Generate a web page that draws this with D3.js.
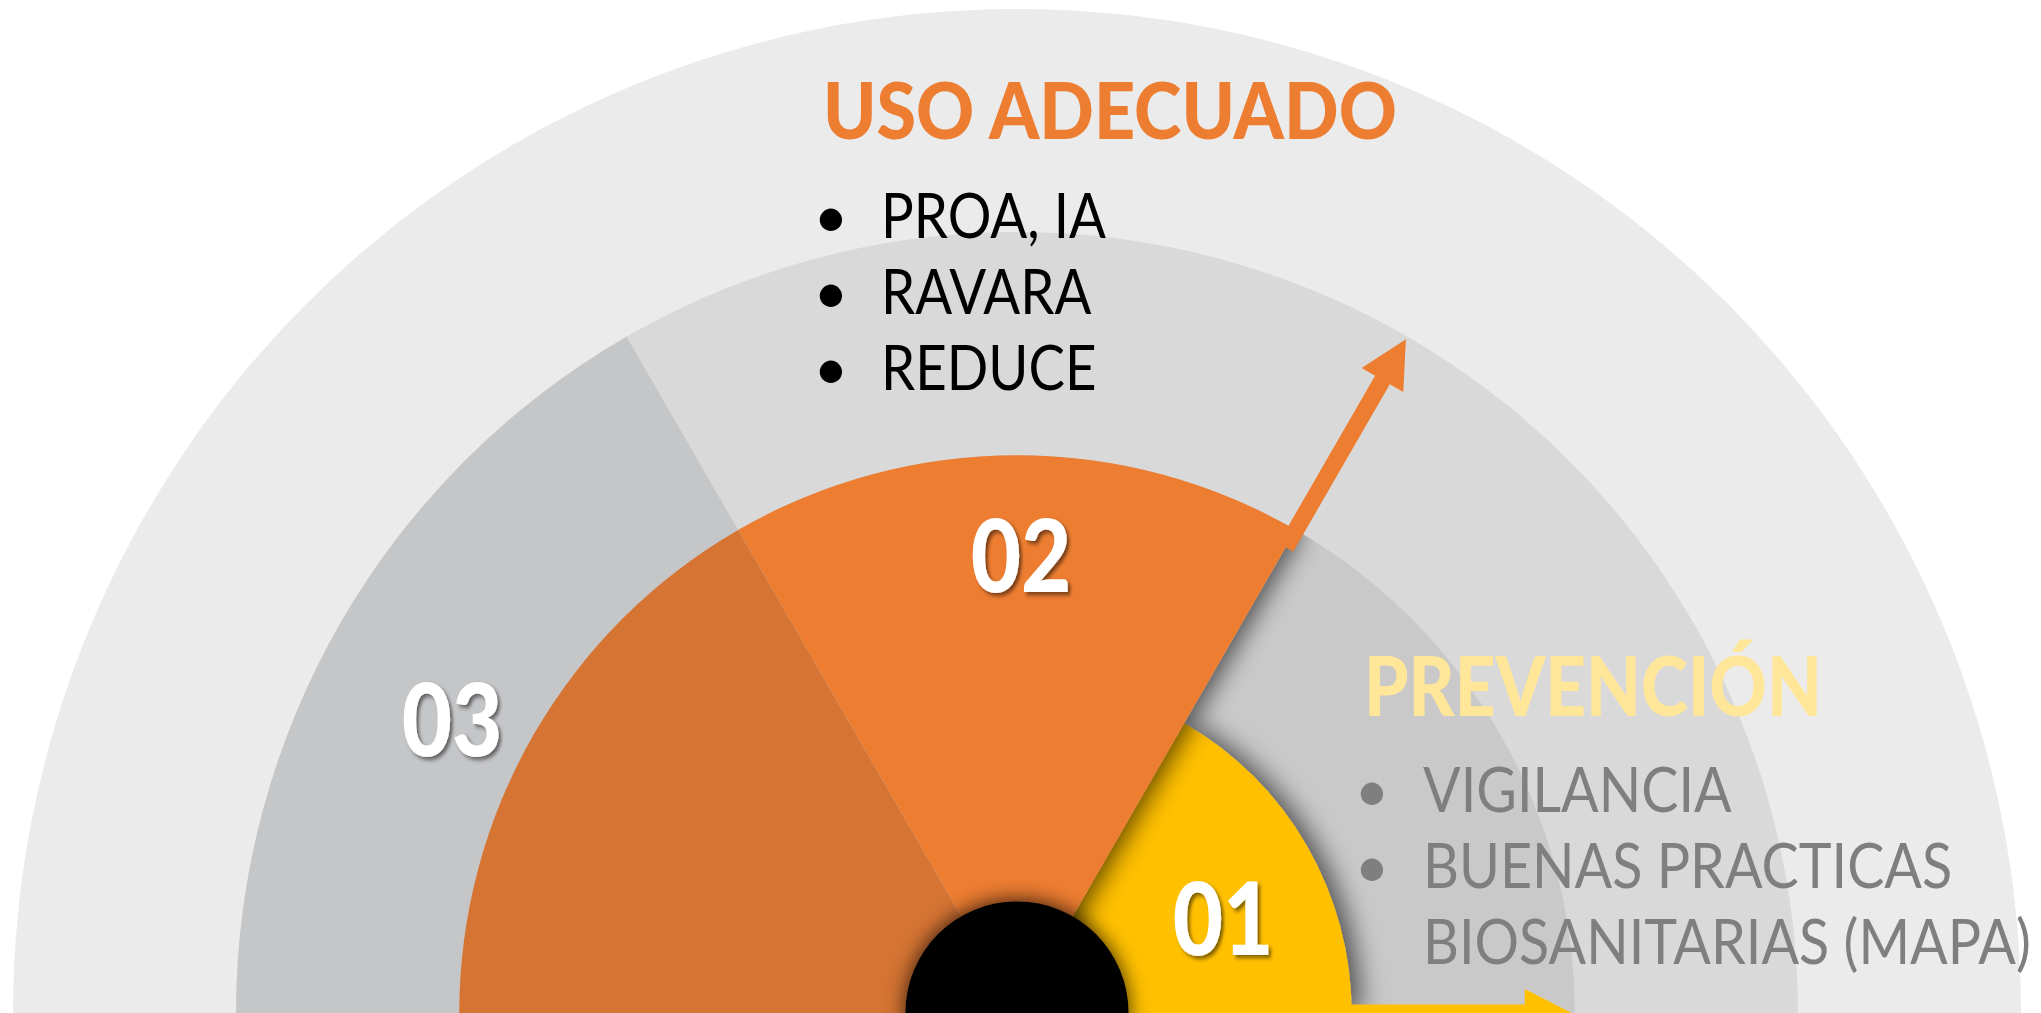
<!DOCTYPE html>
<html>
<head>
<meta charset="utf-8">
<script src="https://cdn.jsdelivr.net/npm/d3@7"></script>
<style>
  html, body { margin: 0; padding: 0; background: #fff; overflow: hidden; }
  svg { display: block; }
</style>
</head>
<body>
<div id="chart"></div>
<script>
// data
const sectorLabels = ["01", "02", "03"];
const sectorShare = [1, 1, 1];      // three equal slices of the half disc
const sectorReach = [3, 5, 7];      // how far each slice reaches (ring units)
const ringLevels = [9, 7, 5];       // background half rings
const hubLevel = 1;
const headings = ["PREVENCIÓN", "USO ADECUADO"];
const usoItems = [["PROA, IA"], ["RAVARA"], ["REDUCE"]];
const prevencionItems = [["VIGILANCIA"], ["BUENAS PRACTICAS", "BIOSANITARIAS (MAPA)"]];

const W = 2041, H = 1013;
const cx = 1017, cy = 1013;
const font = "Lato, 'Open Sans', sans-serif";

const r = d3.scaleLinear().domain([0, 9]).range([0, 1004]);

const svg = d3.select("#chart").append("svg")
  .attr("width", W)
  .attr("height", H);

svg.append("rect").attr("width", W).attr("height", H).attr("fill", "#fff");

const defs = svg.append("defs");

defs.append("filter").attr("id", "yellowShadow")
  .attr("x", "-30%").attr("y", "-30%").attr("width", "160%").attr("height", "160%")
  .append("feDropShadow")
  .attr("dx", 9).attr("dy", 0).attr("stdDeviation", 13)
  .attr("flood-color", "#000").attr("flood-opacity", 0.6);

defs.append("filter").attr("id", "blur12")
  .attr("x", "-30%").attr("y", "-30%").attr("width", "160%").attr("height", "160%")
  .append("feGaussianBlur").attr("stdDeviation", 12);

defs.append("filter").attr("id", "hubShadow")
  .attr("x", "-40%").attr("y", "-40%").attr("width", "180%").attr("height", "180%")
  .append("feDropShadow")
  .attr("dx", 0).attr("dy", -2).attr("stdDeviation", 10)
  .attr("flood-color", "#000").attr("flood-opacity", 0.75);

defs.append("filter").attr("id", "numShadow")
  .attr("x", "-20%").attr("y", "-20%").attr("width", "150%").attr("height", "150%")
  .append("feDropShadow")
  .attr("dx", 3).attr("dy", 3).attr("stdDeviation", 2)
  .attr("flood-color", "#000").attr("flood-opacity", 0.5);

const g = svg.append("g").attr("transform", `translate(${cx},${cy})`);

// background half rings
const ringColors = ["#ebebeb", "#d9d9d9", "#c9c9c9"];
const half = d3.arc().innerRadius(0).startAngle(-Math.PI / 2).endAngle(Math.PI / 2);
g.selectAll(".ring")
  .data(ringLevels)
  .enter()
  .append("path")
  .attr("class", "ring")
  .attr("d", (d) => half.outerRadius(r(d))())
  .attr("fill", (d, i) => ringColors[i]);

// slices: 01 on the right, 02 on top, 03 on the left
const pie = d3.pie().sort(null).startAngle(Math.PI / 2).endAngle(-Math.PI / 2);
const slices = pie(sectorShare).map((p, i) => ({ ...p, label: sectorLabels[i], reach: sectorReach[i] }));
const arc = d3.arc();

// 03 : grey band plus the darker orange under it
const s3 = slices[2];
g.append("path")
  .attr("d", arc({ startAngle: s3.startAngle, endAngle: s3.endAngle, innerRadius: r(slices[1].reach), outerRadius: r(s3.reach) }))
  .attr("fill", "#c5c6c8");
g.append("path")
  .attr("d", arc({ startAngle: s3.startAngle, endAngle: s3.endAngle, innerRadius: 0, outerRadius: r(slices[1].reach) }))
  .attr("fill", "#d57433");

// 01 : yellow with its shadow
const s1 = slices[0];
g.append("path")
  .attr("d", arc({ startAngle: s1.startAngle, endAngle: s1.endAngle, innerRadius: 0, outerRadius: r(s1.reach) }))
  .attr("fill", "#ffc000")
  .attr("filter", "url(#yellowShadow)");

// shadow of the 02 slice, only on the right side of its edge
const s2 = slices[1];
defs.append("clipPath").attr("id", "rightClip")
  .append("path")
  .attr("d", arc({ startAngle: s1.startAngle, endAngle: s1.endAngle, innerRadius: 0, outerRadius: r(s2.reach) }));
g.append("g")
  .attr("clip-path", "url(#rightClip)")
  .append("path")
  .attr("d", arc({ startAngle: s2.startAngle, endAngle: s2.endAngle, innerRadius: 0, outerRadius: r(s2.reach) }))
  .attr("transform", "translate(8,0)")
  .attr("fill", "#000")
  .attr("opacity", 0.6)
  .attr("filter", "url(#blur12)");

g.append("path")
  .attr("d", arc({ startAngle: s2.startAngle, endAngle: s2.endAngle, innerRadius: 0, outerRadius: r(s2.reach) }))
  .attr("fill", "#ed7d31");

// arrows along the leading edge of 01 and 02
function arrowPath(r0, r1) {
  const sw = 8.5, hw = 24, hl = 47;
  return `M${r0},${-sw}L${r1 - hl},${-sw}L${r1 - hl},${-hw}L${r1},0L${r1 - hl},${hw}L${r1 - hl},${sw}L${r0},${sw}Z`;
}
const arrows = [
  { slice: s1, color: "#ffc000" },
  { slice: s2, color: "#ed7d31" },
];
g.selectAll(".arrow")
  .data(arrows)
  .enter()
  .append("path")
  .attr("class", "arrow")
  .attr("d", (d) => arrowPath(r(d.slice.reach) - 20, r(d.slice.reach + 2) - 3))
  .attr("transform", (d) => `rotate(${(d.slice.startAngle * 180) / Math.PI - 90})`)
  .attr("fill", (d) => d.color);

// hub
g.append("circle")
  .attr("r", r(hubLevel))
  .attr("fill", "#000")
  .attr("filter", "url(#hubShadow)");

// slice numbers
const numberPos = { "01": [1223, 955], "02": [1021, 592], "03": [452, 756] };
svg.selectAll(".num")
  .data(slices)
  .enter()
  .append("text")
  .attr("class", "num")
  .attr("transform", (d) => `translate(${numberPos[d.label][0]},${numberPos[d.label][1]}) scale(0.86,1)`)
  .attr("text-anchor", "middle")
  .attr("font-family", font)
  .attr("font-weight", 900)
  .attr("font-size", 101)
  .attr("fill", "#fff")
  .attr("filter", "url(#numShadow)")
  .text((d) => d.label);

// text blocks
function textBlock(x, y, title, titleColor, titleSize, titleWidth, items, itemColor, listTop, itemX, lineH, listWidth) {
  const head = svg.append("text")
    .attr("font-family", font)
    .attr("font-weight", 900)
    .attr("font-size", titleSize)
    .attr("fill", titleColor)
    .text(title);
  const hs = titleWidth / head.node().getComputedTextLength();
  head.attr("transform", `translate(${x},${y}) scale(${hs},1)`);

  const list = svg.append("g");
  let line = 0;
  items.forEach((item) => {
    item.forEach((txt, j) => {
      const ly = listTop + line * lineH;
      if (j === 0) {
        list.append("text")
          .attr("x", x + 8)
          .attr("y", ly)
          .attr("text-anchor", "middle")
          .attr("font-family", font)
          .attr("font-size", 60)
          .attr("fill", itemColor)
          .text("•");
      }
      list.append("text")
        .attr("class", "item")
        .attr("x", itemX)
        .attr("y", ly)
        .attr("font-family", font)
        .attr("font-size", 62)
        .attr("fill", itemColor)
        .text(txt);
      line++;
    });
  });
  let widest = 0;
  list.selectAll(".item").each(function () {
    widest = Math.max(widest, this.getComputedTextLength());
  });
  const ls = listWidth / widest;
  list.selectAll(".item").attr("transform", `translate(${itemX},0) scale(${ls},1) translate(${-itemX},0)`);
}

textBlock(823, 139, headings[1], "#ed7d31", 78, 574, usoItems, "#000", 238, 881, 76, 225);
textBlock(1364, 716, headings[0], "#ffe699", 82, 458, prevencionItems, "#7f7f7f", 812, 1423, 76, 608);
</script>
</body>
</html>
